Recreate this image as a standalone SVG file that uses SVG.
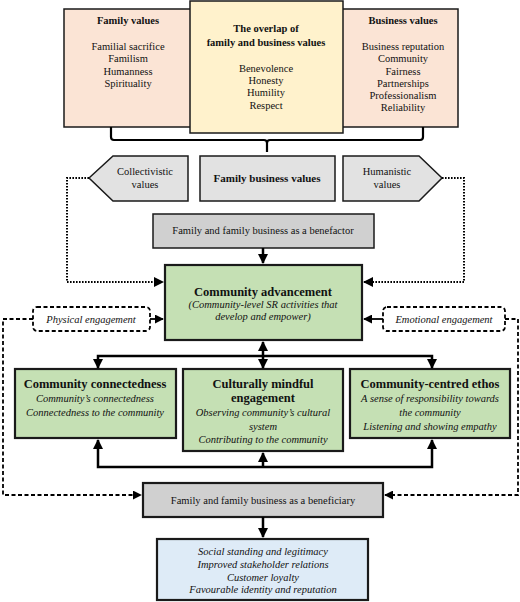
<svg xmlns="http://www.w3.org/2000/svg" width="520" height="602" viewBox="0 0 520 602">
<defs>
<marker id="ah" viewBox="0 0 10 10" refX="9" refY="5" markerWidth="4" markerHeight="4" orient="auto-start-reverse" markerUnits="strokeWidth"><path d="M0,0 L10,5 L0,10 z" fill="#000"/></marker>
<marker id="ahs" viewBox="0 0 10 10" refX="9" refY="5" markerWidth="5" markerHeight="5" orient="auto-start-reverse" markerUnits="strokeWidth"><path d="M0,0 L10,5 L0,10 z" fill="#000"/></marker>
</defs>
<style>
text{font-family:"Liberation Serif","Times New Roman",serif;fill:#111;text-anchor:middle}
.b{font-weight:bold}
.i{font-style:italic}
.s10{font-size:10.5px}
.s11{font-size:11px}
.s12{font-size:12.5px}
.box{stroke:#1a1a1a;stroke-width:1.5}
.thick{stroke:#1a1a1a;stroke-width:2.2}
.conn{fill:none;stroke:#000;stroke-width:2.5}
.dot{fill:none;stroke:#000;stroke-width:2;stroke-dasharray:1.6 1.4}
.dash{fill:none;stroke:#000;stroke-width:1.8;stroke-dasharray:4 2.5}
</style>

<g id="family-values">
<rect x="64" y="9" width="128" height="118" fill="#fbe4d5" class="box"/>
<text x="128" y="24" class="b s10">Family values</text>
<text x="128" y="50" class="s10">Familial sacrifice</text>
<text x="128" y="62" class="s10">Familism</text>
<text x="128" y="75" class="s10">Humanness</text>
<text x="128" y="87" class="s10">Spirituality</text>
</g>
<g id="business-values">
<rect x="340" y="9" width="118" height="118" fill="#fbe4d5" class="box"/>
<text x="403" y="24" class="b s10">Business values</text>
<text x="403" y="50" class="s10">Business reputation</text>
<text x="403" y="62" class="s10">Community</text>
<text x="403" y="75" class="s10">Fairness</text>
<text x="403" y="87" class="s10">Partnerships</text>
<text x="403" y="99" class="s10">Professionalism</text>
<text x="403" y="111" class="s10">Reliability</text>
</g>
<g id="overlap-values">
<rect x="190" y="1" width="153" height="132" fill="#fff2cc" class="box"/>
<text x="266" y="32" class="b s10">The overlap of</text>
<text x="266" y="46" class="b s10">family and business values</text>
<text x="266" y="72" class="s10">Benevolence</text>
<text x="266" y="84" class="s10">Honesty</text>
<text x="266" y="96" class="s10">Humility</text>
<text x="266" y="109" class="s10">Respect</text>
</g>

<g id="collectivistic-values">
<polygon points="89,178 113,156 188,156 188,201 113,201" fill="#e2e2e2" class="box"/>
<text x="145" y="175" class="s10">Collectivistic</text>
<text x="145" y="188" class="s10">values</text>
</g>
<g id="family-business-values">
<rect x="200" y="156" width="135" height="45" fill="#e2e2e2" class="box"/>
<text x="267" y="182" class="b s11">Family business values</text>
</g>
<g id="humanistic-values">
<polygon points="343,156 419,156 442,178 419,201 343,201" fill="#e2e2e2" class="box"/>
<text x="387" y="175" class="s10">Humanistic</text>
<text x="387" y="188" class="s10">values</text>
</g>

<g id="benefactor">
<rect x="153" y="214" width="221" height="34" fill="#d0d0d0" class="box"/>
<text x="263" y="234" class="s10">Family and family business as a benefactor</text>
</g>

<g id="community-advancement">
<rect x="165" y="265" width="197" height="75" fill="#c5e0b4" class="thick"/>
<text x="263" y="296" class="b s12">Community advancement</text>
<text x="263" y="308" class="i s10">(Community-level SR activities that</text>
<text x="263" y="320" class="i s10">develop and empower)</text>
</g>

<g id="physical-engagement">
<rect x="33" y="307" width="117" height="24" rx="4" fill="#fff" class="dash"/>
<text x="91" y="323" class="i s10">Physical engagement</text>
</g>
<g id="emotional-engagement">
<rect x="383" y="307" width="122" height="24" rx="4" fill="#fff" class="dash"/>
<text x="444" y="323" class="i s10">Emotional engagement</text>
</g>

<g id="community-connectedness">
<rect x="15" y="369" width="161" height="69" fill="#c5e0b4" class="thick"/>
<text x="95" y="388" class="b s12">Community connectedness</text>
<text x="95" y="402" class="i s10">Community’s connectedness</text>
<text x="95" y="416" class="i s10">Connectedness to the community</text>
</g>
<g id="culturally-mindful-engagement">
<rect x="183" y="369" width="160" height="82" fill="#c5e0b4" class="thick"/>
<text x="263" y="388" class="b s12">Culturally mindful</text>
<text x="263" y="402" class="b s12">engagement</text>
<text x="263" y="416" class="i s10">Observing community’s cultural</text>
<text x="263" y="430" class="i s10">system</text>
<text x="263" y="443" class="i s10">Contributing to the community</text>
</g>
<g id="community-centred-ethos">
<rect x="350" y="369" width="160" height="69" fill="#c5e0b4" class="thick"/>
<text x="430" y="388" class="b s12">Community-centred ethos</text>
<text x="430" y="402" class="i s10">A sense of responsibility towards</text>
<text x="430" y="416" class="i s10">the community</text>
<text x="430" y="430" class="i s10">Listening and showing empathy</text>
</g>

<g id="beneficiary">
<rect x="143" y="483" width="240" height="34" fill="#d0d0d0" class="thick"/>
<text x="263" y="504" class="s10">Family and family business as a beneficiary</text>
</g>

<g id="outcomes">
<rect x="157" y="539" width="211" height="61" fill="#deebf7" class="thick"/>
<text x="263" y="555" class="i s10">Social standing and legitimacy</text>
<text x="263" y="568" class="i s10">Improved stakeholder relations</text>
<text x="263" y="581" class="i s10">Customer loyalty</text>
<text x="263" y="593" class="i s10">Favourable identity and reputation</text>
</g>

<g id="connectors">
<path d="M111,127 V137 Q111,140 114,140 H264 Q267,140 267,143 V152 M267,143 Q267,140 270,140 H420 Q423,140 423,137 V127" fill="none" stroke="#000" stroke-width="2.2"/>
<path d="M89,178 H67 V282 H163" class="dot" marker-end="url(#ahs)"/>
<path d="M442,178 H464 V282 H364" class="dot" marker-end="url(#ahs)"/>
<path d="M263,248 V263" class="conn" marker-end="url(#ah)"/>
<path d="M150,319 H163" stroke="#000" stroke-width="1.8" fill="none" marker-end="url(#ahs)"/>
<path d="M383,319 H364" stroke="#000" stroke-width="1.8" fill="none" marker-end="url(#ahs)"/>
<path d="M33,319 H3 V495 H141" class="dash" marker-end="url(#ahs)"/>
<path d="M505,319 H518 V495 H385" class="dash" marker-end="url(#ahs)"/>
<path d="M263,342 V356" class="conn" marker-start="url(#ah)"/>
<path d="M98,368 V356 H432 V368" class="conn" marker-start="url(#ah)" marker-end="url(#ah)"/>
<path d="M263,356 V368" class="conn" marker-end="url(#ah)"/>
<path d="M98,440 V467 H432 V440" class="conn" marker-start="url(#ah)" marker-end="url(#ah)"/>
<path d="M263,467 V453" class="conn" marker-end="url(#ah)"/>
<path d="M263,517 V537" class="conn" marker-end="url(#ah)"/>
</g>
</svg>
